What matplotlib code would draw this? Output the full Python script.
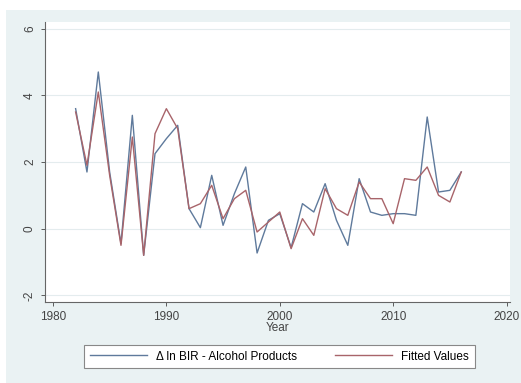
import matplotlib
matplotlib.use('Agg')
import matplotlib.pyplot as plt
from matplotlib.patches import Rectangle

# data
years = list(range(1982, 2017))
actual = [3.6, 1.7, 4.7, 1.7, -0.45, 3.4, -0.8, 2.25, 2.7, 3.1, 0.6, 0.03, 1.6, 0.1,
          1.05, 1.85, -0.73, 0.25, 0.45, -0.57, 0.75, 0.5, 1.35, 0.25, -0.5, 1.5,
          0.5, 0.4, 0.45, 0.45, 0.4, 3.35, 1.1, 1.15, 1.7]
fitted = [3.5, 1.9, 4.1, 1.6, -0.5, 2.75, -0.8, 2.85, 3.6, 3.0, 0.6, 0.75, 1.3, 0.3,
          0.9, 1.15, -0.1, 0.2, 0.5, -0.6, 0.3, -0.2, 1.2, 0.6, 0.4, 1.4,
          0.9, 0.9, 0.15, 1.5, 1.45, 1.85, 1.0, 0.8, 1.7]
x_ticks = [1980, 1990, 2000, 2010, 2020]
y_ticks = [-2, 0, 2, 4, 6]

plt.rcParams['font.family'] = ['Liberation Sans', 'DejaVu Sans']

W, H = 521, 383
fig = plt.figure(figsize=(W / 100, H / 100), dpi=100, facecolor='white')

# stata-like outer graph region
bg = Rectangle((6 / W, 0), 1 - 6 / W, 1 - 10 / H, transform=fig.transFigure,
               facecolor='#eaf2f3', edgecolor='none', zorder=-5)
fig.add_artist(bg)

ax = fig.add_axes([45 / W, 1 - 302 / H, 465 / W, 280 / H])
ax.set_facecolor('white')

ax.plot(years, actual, color='#5f7a9c', lw=1.0, label='\u0394 ln BIR - Alcohol Products')
ax.plot(years, fitted, color='#a8646a', lw=1.0, label='Fitted Values')

ax.set_xlim(1979.3, 2020.3)
ax.set_ylim(-2.2, 6.2)
ax.set_xticks(x_ticks)
ax.set_yticks(y_ticks)
ax.set_yticklabels([str(v) for v in y_ticks], rotation=90, va='center')
ax.tick_params(labelsize=8.5, colors='#444444', length=3, width=0.6)
ax.grid(axis='y', color='#e4ecee', lw=0.8)
ax.set_axisbelow(True)

for s in ['top', 'right']:
    ax.spines[s].set_visible(False)
for s in ['left', 'bottom']:
    ax.spines[s].set_color('#666666')
    ax.spines[s].set_linewidth(0.8)

ax.set_xlabel('Year', fontsize=8.5, color='#444444', labelpad=-1)

leg = fig.legend(loc='center', bbox_to_anchor=(279.5 / W, 1 - 356.5 / H), ncol=2,
                 fontsize=8.5, frameon=True, fancybox=False, handlelength=4.8,
                 columnspacing=3.2, borderpad=0.5, framealpha=1)
leg.get_frame().set_edgecolor('#888888')
leg.get_frame().set_linewidth(0.8)

fig.savefig('out.png', dpi=100)
